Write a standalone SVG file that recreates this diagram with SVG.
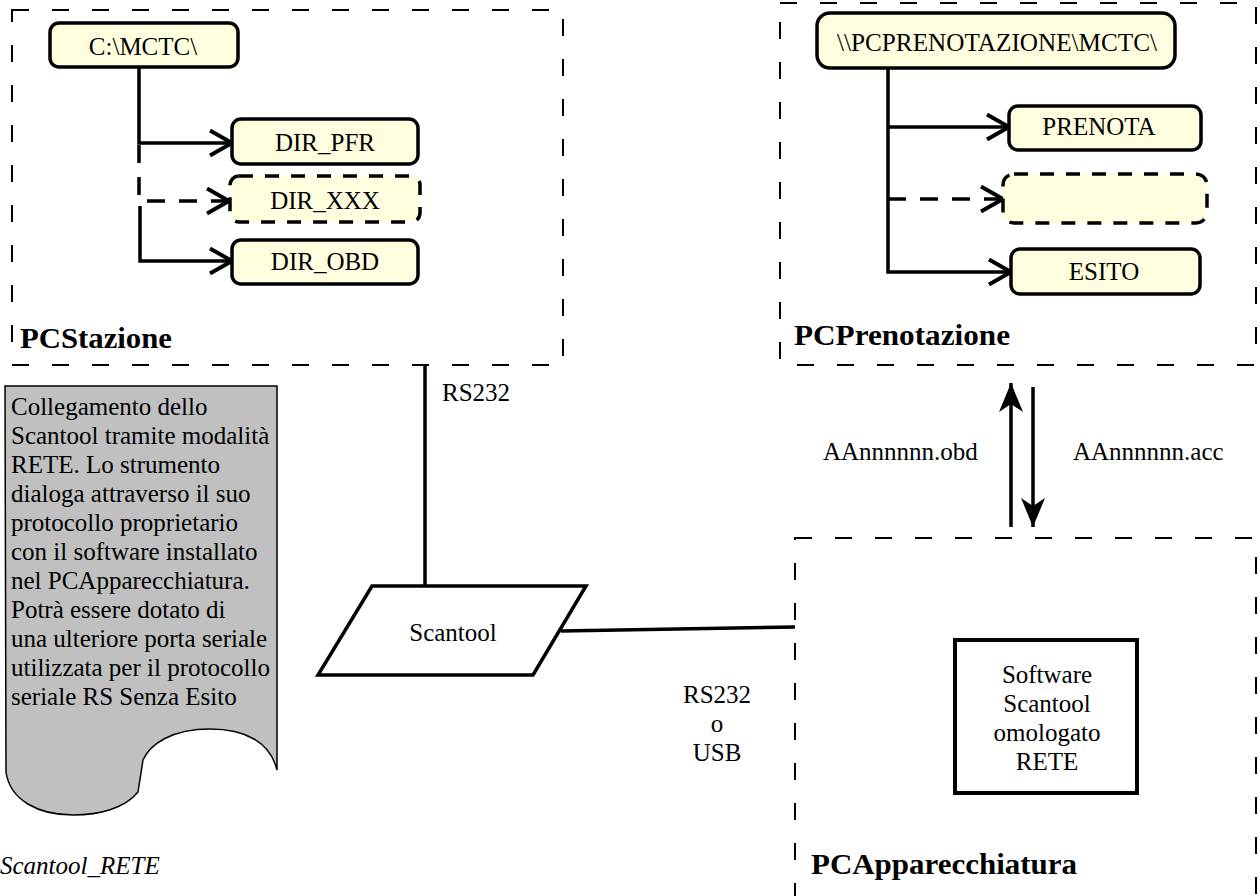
<svg xmlns="http://www.w3.org/2000/svg" width="1260" height="896" viewBox="0 0 1260 896">
<defs>
<style>
text{font-family:"Liberation Serif","Times New Roman",serif;font-size:25px;fill:#000}
.c{text-anchor:middle}
.title{font-weight:bold;font-size:30px}
.frame{fill:none;stroke:#000;stroke-width:2;stroke-dasharray:17 23}
.node{fill:#ffffe0;stroke:#000;stroke-width:3.5}
.dnode{fill:#ffffe0;stroke:#000;stroke-width:3.5;stroke-dasharray:14 12}
.conn{fill:none;stroke:#000;stroke-width:3.5}
.dconn{fill:none;stroke:#000;stroke-width:3.5;stroke-dasharray:18 14}
</style>
<marker id="chev" markerUnits="userSpaceOnUse" viewBox="0 0 28 28" markerWidth="28" markerHeight="28" refX="24" refY="14" orient="auto">
<path d="M2,1.5 L24,14 L2,26.5" fill="none" stroke="#000" stroke-width="4"/>
</marker>
<marker id="notch" markerUnits="userSpaceOnUse" viewBox="0 0 30 26" markerWidth="30" markerHeight="26" refX="29" refY="13" orient="auto">
<path d="M29,13 L0,1 L8,13 L0,25 Z" fill="#000"/>
</marker>
</defs>

<g id="frame-pcstazione">
<rect class="frame" x="12" y="10" width="551" height="355"/>
<text class="title" x="20" y="348" textLength="152" lengthAdjust="spacingAndGlyphs">PCStazione</text>
</g>
<g id="frame-pcprenotazione">
<rect class="frame" x="780" y="3" width="476" height="362"/>
<text class="title" x="794" y="345" textLength="216" lengthAdjust="spacingAndGlyphs">PCPrenotazione</text>
</g>
<g id="frame-pcapparecchiatura">
<rect class="frame" x="795" y="538" width="461" height="420"/>
<text class="title" x="811" y="874" textLength="266" lengthAdjust="spacingAndGlyphs">PCApparecchiatura</text>
</g>

<g id="connectors">
<path class="conn" d="M139,67 V143 H232" marker-end="url(#chev)"/>
<path class="dconn" d="M139,145 V201 H229" marker-end="url(#chev)"/>
<path class="conn" d="M140,206 V261 H232" marker-end="url(#chev)"/>
<path class="conn" d="M888,68 V272 H1011" marker-end="url(#chev)"/>
<path class="conn" d="M888,127 H1009" marker-end="url(#chev)"/>
<path class="dconn" d="M888,199 H1003" marker-end="url(#chev)"/>
<path class="conn" d="M1011,527 V383" marker-end="url(#notch)"/>
<path class="conn" d="M1033,387 V527" marker-end="url(#notch)"/>
<path class="conn" d="M425,366 V586"/>
<path class="conn" d="M561,631 L795,627"/>
<text x="442" y="401">RS232</text>
<text class="c" x="717" y="703">RS232</text>
<text class="c" x="717" y="732">o</text>
<text class="c" x="717" y="761">USB</text>
<text x="823" y="460">AAnnnnnn.obd</text>
<text x="1073" y="460">AAnnnnnn.acc</text>
</g>

<g id="node-cmctc">
<rect class="node" x="50" y="23" width="188" height="44" rx="9"/>
<text class="c" x="143" y="55">C:\MCTC\</text>
</g>
<g id="node-dir-pfr">
<rect class="node" x="232" y="119" width="186" height="45" rx="9"/>
<text class="c" x="325" y="151">DIR_PFR</text>
</g>
<g id="node-dir-xxx">
<rect class="dnode" x="230" y="176" width="190" height="46" rx="9"/>
<text class="c" x="325" y="209">DIR_XXX</text>
</g>
<g id="node-dir-obd">
<rect class="node" x="232" y="240" width="186" height="44" rx="9"/>
<text class="c" x="325" y="270">DIR_OBD</text>
</g>

<g id="node-pcprenotazione-mctc">
<rect class="node" x="817" y="13" width="358" height="55" rx="13"/>
<text class="c" x="997" y="51" textLength="320" lengthAdjust="spacingAndGlyphs">\\PCPRENOTAZIONE\MCTC\</text>
</g>
<g id="node-prenota">
<rect class="node" x="1009" y="106" width="192" height="44" rx="9"/>
<text class="c" x="1099" y="135">PRENOTA</text>
</g>
<g id="node-empty">
<rect class="dnode" x="1003" y="174" width="204" height="49" rx="11"/>
</g>
<g id="node-esito">
<rect class="node" x="1011" y="249" width="189" height="45" rx="9"/>
<text class="c" x="1104" y="280">ESITO</text>
</g>

<g id="node-note">
<path d="M5,386 H277 V770 C270,742 245,729 210,729 C172,729 150,744 143,760 L138,792 C125,808 100,815 73,815 C38,815 10,800 6,772 Z" fill="#c0c0c0" stroke="#000" stroke-width="1.5"/>
<text x="11" y="415">Collegamento dello</text>
<text x="11" y="444">Scantool tramite modalità</text>
<text x="11" y="473">RETE. Lo strumento</text>
<text x="11" y="502">dialoga attraverso il suo</text>
<text x="11" y="531">protocollo proprietario</text>
<text x="11" y="560">con il software installato</text>
<text x="11" y="589">nel PCApparecchiatura.</text>
<text x="11" y="618">Potrà essere dotato di</text>
<text x="11" y="647">una ulteriore porta seriale</text>
<text x="11" y="676">utilizzata per il protocollo</text>
<text x="11" y="705">seriale RS Senza Esito</text>
</g>

<g id="node-scantool">
<polygon points="372,586 586,586 533,675 318,675" fill="#fff" stroke="#000" stroke-width="3.5"/>
<text class="c" x="453" y="641">Scantool</text>
</g>

<g id="node-software">
<rect x="955" y="640" width="182" height="153" fill="#fff" stroke="#000" stroke-width="4"/>
<text class="c" x="1047" y="683">Software</text>
<text class="c" x="1047" y="712">Scantool</text>
<text class="c" x="1047" y="741">omologato</text>
<text class="c" x="1047" y="770">RETE</text>
</g>

<g id="caption">
<text x="0" y="874" font-style="italic" font-size="26">Scantool_RETE</text>
</g>
</svg>
